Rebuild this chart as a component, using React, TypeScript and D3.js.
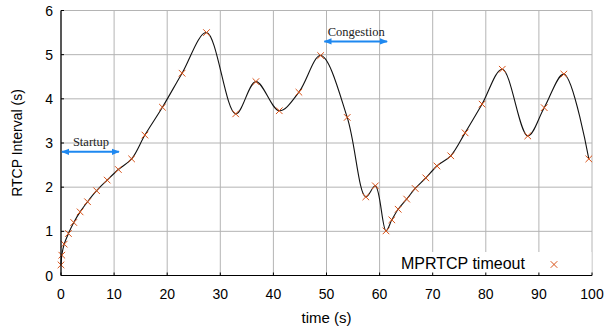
import React from "react";
import * as d3 from "d3";

const times = [0, 0.15, 0.6, 1.4, 2.4, 3.6, 5.0, 6.7, 8.7, 10.8, 13.3, 15.8, 19.1, 22.8, 27.4, 32.9, 36.7, 41.1, 44.8, 48.9, 53.9, 57.4, 59.2, 61.2, 62.3, 63.5, 65.1, 66.7, 68.7, 70.8, 73.4, 76.1, 79.3, 83.1, 87.9, 91.0, 94.7, 99.4];
const intervals = [0.24, 0.46, 0.71, 0.95, 1.2, 1.44, 1.67, 1.92, 2.16, 2.40, 2.64, 3.18, 3.81, 4.58, 5.50, 3.66, 4.39, 3.73, 4.15, 4.98, 3.58, 1.78, 2.03, 1.01, 1.26, 1.50, 1.73, 1.97, 2.21, 2.48, 2.71, 3.23, 3.88, 4.67, 3.16, 3.80, 4.56, 2.64];
const xTicks = [0, 10, 20, 30, 40, 50, 60, 70, 80, 90, 100];
const yTicks = [0, 1, 2, 3, 4, 5, 6];
const annotations = [
  { label: "Startup", from: 0, to: 11.1, yv: 2.8, ty: 2.95 },
  { label: "Congestion", from: 49.4, to: 61.6, yv: 5.3, ty: 5.45 },
];
const legendLabel = "MPRTCP timeout";

const W = 606, H = 334;
const M = { left: 61, right: 592, top: 10.5, bottom: 275.5 };

export default function App() {
  const x = d3.scaleLinear().domain([0, 100]).range([M.left, M.right]);
  const y = d3.scaleLinear().domain([0, 6]).range([M.bottom, M.top]);
  const pts: [number, number][] = times.map((t, i) => [t, intervals[i]]);
  const line = d3.line<[number, number]>()
    .x(d => x(d[0]))
    .y(d => y(d[1]))
    .curve(d3.curveCatmullRom.alpha(0.5));
  const orange = "#D95319";
  const blue = "#1E88F0";
  const grid = "#b4b4b4";
  const sans = "Liberation Sans, Arial, Helvetica, sans-serif";
  const serif = "Liberation Serif, Times New Roman, serif";
  const ms = 3.3;
  return (
    <svg width={W} height={H} style={{ position: "absolute", left: 0, top: 0, background: "#fff" }}>
      <defs>
        <marker id="ah" viewBox="0 0 10 10" refX="9" refY="5" markerWidth="4" markerHeight="4" orient="auto-start-reverse">
          <path d="M0,1 L10,5 L0,9 z" fill={blue} />
        </marker>
      </defs>
      {/* grid */}
      {xTicks.map(t => (
        <line key={"gx" + t} x1={x(t)} x2={x(t)} y1={y(6)} y2={y(0)} stroke={grid} strokeWidth={1} />
      ))}
      {yTicks.map(t => (
        <line key={"gy" + t} x1={x(0)} x2={x(100)} y1={y(t)} y2={y(t)} stroke={grid} strokeWidth={1} />
      ))}
      {/* legend box */}
      <rect x={396} y={252} width={x(100) - 396 - 0.5} height={y(0) - 252} fill="#fff" />
      {/* curve */}
      <path d={line(pts) || ""} fill="none" stroke="#111" strokeWidth={1.1} />
      {/* markers */}
      {pts.map((p, i) => (
        <g key={"m" + i} stroke={orange} strokeWidth={1}>
          <line x1={x(p[0]) - ms} x2={x(p[0]) + ms} y1={y(p[1]) - ms} y2={y(p[1]) + ms} />
          <line x1={x(p[0]) - ms} x2={x(p[0]) + ms} y1={y(p[1]) + ms} y2={y(p[1]) - ms} />
        </g>
      ))}
      {/* axes */}
      <line x1={x(0)} x2={x(0)} y1={y(6)} y2={y(0)} stroke="#000" strokeWidth={1.2} />
      <line x1={x(0)} x2={x(100)} y1={y(0)} y2={y(0)} stroke="#000" strokeWidth={1.2} />
      {xTicks.map(t => (
        <g key={"tx" + t}>
          <line x1={x(t)} x2={x(t)} y1={y(0)} y2={y(0) - 3} stroke="#000" strokeWidth={1} />
          <text x={x(t)} y={299} textAnchor="middle" fontFamily={sans} fontSize={14} fill="#000">{t}</text>
        </g>
      ))}
      {yTicks.map(t => (
        <g key={"ty" + t}>
          <line x1={x(0)} x2={x(0) + 3} y1={y(t)} y2={y(t)} stroke="#000" strokeWidth={1} />
          <text x={53} y={y(t) + 5} textAnchor="end" fontFamily={sans} fontSize={14} fill="#000">{t}</text>
        </g>
      ))}
      <text x={326.5} y={323} textAnchor="middle" fontFamily={sans} fontSize={15} fill="#000">time (s)</text>
      <text transform={`translate(22,143) rotate(-90)`} textAnchor="middle" fontFamily={sans} fontSize={14} fill="#000">RTCP Interval (s)</text>
      {/* annotations */}
      {annotations.map(a => (
        <g key={a.label}>
          <line x1={x(a.from) + 1} x2={x(a.to) - 1} y1={y(a.yv)} y2={y(a.yv)} stroke={blue} strokeWidth={2}
            markerStart="url(#ah)" markerEnd="url(#ah)" />
          <text x={(x(a.from) + x(a.to)) / 2 + 0.5} y={y(a.ty) + 1} textAnchor="middle" fontFamily={serif} fontSize={12.5} fill="#222">{a.label}</text>
        </g>
      ))}
      {/* legend */}
      <text x={401} y={268.5} fontFamily={sans} fontSize={16} fill="#000">{legendLabel}</text>
      <g stroke={orange} strokeWidth={1}>
        <line x1={554 - ms} x2={554 + ms} y1={264.5 - ms} y2={264.5 + ms} />
        <line x1={554 - ms} x2={554 + ms} y1={264.5 + ms} y2={264.5 - ms} />
      </g>
    </svg>
  );
}
